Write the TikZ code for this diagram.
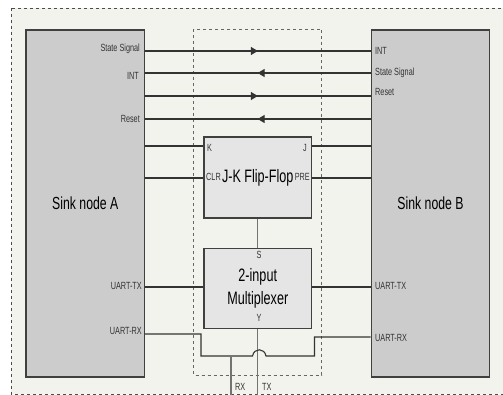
\documentclass[tikz,border=0pt]{standalone}
\usepackage{fontspec}
\setmainfont[FakeStretch=0.7]{Liberation Sans}
\usepackage{tikz}
\usetikzlibrary{positioning, arrows.meta, decorations.markings}
\tikzset{
  x=1pt,
  y=-1pt,
  sink/.style={draw=black!75, line width=1.2pt, fill=black!20, minimum width=118.5pt, minimum height=347pt, font=\fontsize{17.5}{20}\selectfont, inner sep=0pt},
  logic/.style={draw=black!75, line width=1.2pt, fill=black!10, minimum width=107.5pt, inner sep=0pt, align=center, font=\fontsize{18}{23}\selectfont},
  small/.style={font=\fontsize{10.4}{12}\selectfont, text=black!80, inner sep=0pt},
  wire/.style={draw=black!80, line width=1.1pt},
  pale/.style={draw=black!55, line width=1.1pt},
  toright/.style={wire, postaction={decorate}, decoration={markings, mark=at position 0.5 with {\arrow{Triangle[length=7pt,width=8pt]}}}},
  toleft/.style={wire, postaction={decorate}, decoration={markings, mark=at position 0.53 with {\arrow{Triangle[reversed,length=7pt,width=8pt]}}}},
}

\begin{document}
\begin{tikzpicture}
		\useasboundingbox (0,0) rectangle (503,395);
		% frames
		\fill[white] (0,0) rectangle (503,395);
		\draw[dashed, fill={rgb,255:red,243;green,243;blue,237}, draw=black!70, line width=0.7pt] (11,8) rectangle (512,394);
		\draw[dashed, draw=black!60, line width=0.5pt] (193.5,29) rectangle (321.5,375);

		% blocks
		\node[sink] (a) at (85.25,203.5) {Sink node A};
		\node[sink] (b) at (430.5,203.5) {Sink node B};
		\node[logic, minimum height=81pt] (ff) at (257.75,177.5) {J-K Flip-Flop};
		\node[logic, minimum height=80pt, below=29pt of ff] (mux) {2-input\\Multiplexer};

		% coordinates
		\coordinate (rxa) at (201,356);
		\coordinate (jumpa) at (252.5,356);
		\coordinate (jumpb) at (266,356);
		\coordinate (rxb) at (314.5,356);
		\coordinate (rx) at (231,395);
		\coordinate (tx) at (mux.south |- rx);

		% signals
		\draw[toright] (a.east |- 0,51) -- (b.west |- 0,51);
		\draw[toleft] (a.east |- 0,73) -- (b.west |- 0,73);
		\draw[toright] (a.east |- 0,96) -- (b.west |- 0,96);
		\draw[toleft] (a.east |- 0,119) -- (b.west |- 0,119);
		\draw[wire] (a.east |- 0,146) -- (ff.west |- 0,146);
		\draw[wire] (a.east |- 0,178) -- (ff.west |- 0,178);
		\draw[wire] (ff.east |- 0,146) -- (b.west |- 0,146);
		\draw[wire] (ff.east |- 0,178) -- (b.west |- 0,178);
		\draw[wire] (a.east |- 0,287) -- (mux.west |- 0,287);
		\draw[wire] (mux.east |- 0,287) -- (b.west |- 0,287);
		\draw[pale] (ff) -- (mux);
		\draw[pale] (mux) -- (tx);
		\draw[wire] (a.east |- 0,334) -| (rxa) -- (jumpa) to[out=80, in=100, looseness=1.6] (jumpb) -- (rxb) |- (b.west |- 0,337);
		\draw[pale] (rxa -| rx) -- (rx);

		% labels
		\node[small, anchor=east] (la1) at (140,48.5) {State Signal};
		\node[small, anchor=east] (la2) at (139,75.5) {INT};
		\node[small, anchor=east] (la3) at (140,119) {Reset};
		\node[small, anchor=east] (la4) at (142,286) {UART-TX};
		\node[small, anchor=east] (la5) at (142,331) {UART-RX};
		\node[small, anchor=west] (lb1) at (375,51) {INT};
		\node[small, anchor=west] (lb2) at (375,73) {State Signal};
		\node[small, anchor=west] (lb3) at (375,92) {Reset};
		\node[small, anchor=west] (lb4) at (375,286) {UART-TX};
		\node[small, anchor=west] (lb5) at (375,338) {UART-RX};
		\node[small, anchor=west] (k) at (207,148) {K};
		\node[small, anchor=west] (clr) at (206,177) {CLR};
		\node[small, anchor=east] (j) at (307,148) {J};
		\node[small, anchor=east] (pre) at (310,177) {PRE};
		\node[small] (s) at (259,255) {S};
		\node[small] (y) at (259,318) {Y};
		\node[small, anchor=west] (lrx) at (235,387) {RX};
		\node[small, anchor=west] (ltx) at (262,387) {TX};
	\end{tikzpicture}
\end{document}
